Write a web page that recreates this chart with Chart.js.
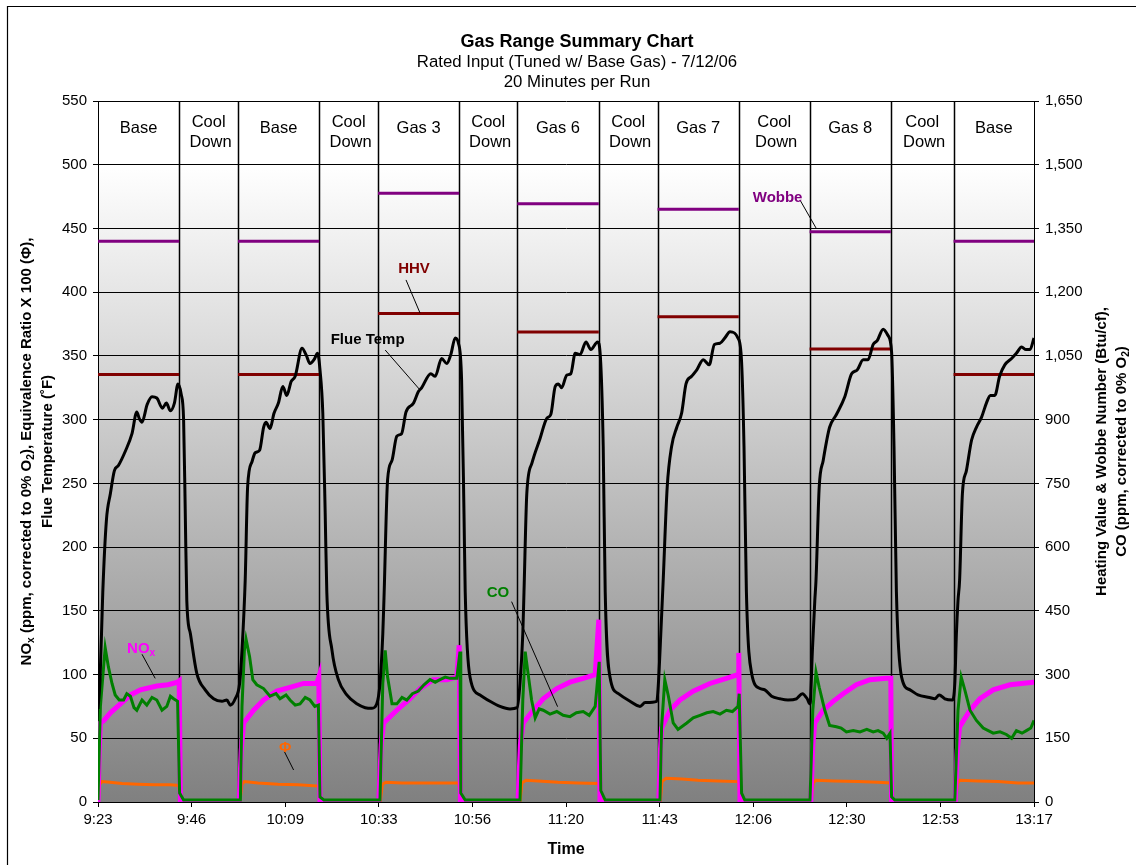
<!DOCTYPE html>
<html>
<head>
<meta charset="utf-8">
<title>Gas Range Summary Chart</title>
<script src="https://cdn.jsdelivr.net/npm/chart.js@4.4.1/dist/chart.umd.min.js"></script>
<style>
  html, body { margin: 0; padding: 0; background: #fff; }
  #wrap { position: relative; width: 1136px; height: 865px; }
</style>
</head>
<body>
<div id="wrap"><canvas id="gasChart" width="1136" height="865"></canvas></div>
<script>
// x = minutes since 9:23
const timeLabels = ['9:23', '9:46', '10:09', '10:33', '10:56', '11:20', '11:43', '12:06', '12:30', '12:53', '13:17'];
const tickStep = 23.4;

// bands across the top of the plot
const segEdges = [0, 20.3, 35, 55.3, 70, 90.3, 104.8, 125.2, 139.9, 160.2, 177.9, 198.2, 213.9, 234];
const segNames = ['Base', 'Cool Down', 'Base', 'Cool Down', 'Gas 3', 'Cool Down', 'Gas 6', 'Cool Down',
                  'Gas 7', 'Cool Down', 'Gas 8', 'Cool Down', 'Base'];

// per run fuel properties (Btu/cf)
const runStart = [0, 35, 70, 104.8, 139.9, 177.9, 213.9];
const runEnd = [20.3, 55.3, 90.3, 125.2, 160.2, 198.2, 234];
const hhv = [1006, 1006, 1150, 1106, 1142, 1066, 1006];
const wobbe = [1320, 1320, 1433, 1408, 1395, 1342, 1320];

// flue temperature (F)
const flueTime = [0, 0.5, 1.2, 2.1, 3.1, 4.1, 5.1, 6.8, 8.5, 9.7, 10.3, 11.0, 12.3, 13.5, 14.7, 16.1, 17.1, 18.1, 19.1, 20.0, 20.8, 21.4, 21.8, 22.2,
  23.1, 24.7, 26.8, 28.9, 31.0, 32.2, 33.1, 34.3, 35.4, 36.0, 36.8, 37.4, 38.5, 39.3, 40.4, 41.4, 42.0, 43.0, 44.0, 45.1, 46.2, 47.2, 48.3, 49.3,
  51.0, 52.0, 53.0, 54.0, 54.9, 55.5, 56.2, 56.8, 57.2, 58.5, 60.1, 62.2, 64.7, 66.8, 68.5, 69.7, 70.5, 71.2, 71.5, 72.4, 73.5, 74.7, 75.9, 77.0,
  78.9, 80.1, 80.9, 83.2, 84.3, 85.9, 87.2, 88.2, 89.3, 90.1, 90.9, 91.5, 91.8, 93.0, 95.5, 98.0, 100.5, 103.0, 104.8, 105.5, 106.2, 106.5, 107.2,
  108.5, 110.5, 112.2, 113.2, 114.3, 115.1, 115.9, 117.2, 118.2, 119.3, 120.5, 122.0, 123.2, 124.9, 125.6, 126.3, 126.8, 128.0, 130.1, 133.0,
  135.5, 136.8, 139.7, 140.1, 140.7, 141.3, 142.3, 143.4, 144.7, 145.9, 147.0, 148.4, 149.7, 151.3, 152.8, 154.1, 155.5, 156.7, 158.0, 160.0,
  160.9, 161.5, 162.1, 163.4, 165.5, 166.7, 168.4, 170.5, 172.5, 174.6, 176.1, 177.3, 178.0, 178.6, 179.2, 179.5, 180.3, 181.3, 182.9, 184.6,
  186.7, 188.4, 189.8, 191.3, 192.5, 193.8, 194.8, 196.3, 197.5, 198.4, 199.0, 199.6, 200.9, 203.0, 205.0, 207.9, 209.2, 210.3, 211.7, 213.6,
  214.2, 214.6, 215.0, 215.4, 216.1, 217.1, 218.4, 219.6, 220.9, 222.1, 223.1, 224.2, 225.4, 226.7, 228.4, 229.6, 230.9, 232.0, 233.0, 234.0];
const flueTemp = [73, 95, 165, 221, 242, 260, 264, 275, 289, 306, 301, 298, 312, 318, 317, 309, 313, 307, 313, 328, 320, 300, 230, 158,
  132, 101, 88, 81, 79, 80, 76, 81, 93, 119, 174, 247, 267, 274, 276, 294, 298, 293, 305, 313, 326, 319, 330, 334,
  356, 351, 344, 347, 352, 339, 305, 226, 165, 119, 96, 84, 77, 74, 73.5, 77, 93, 132, 160, 253, 268, 287, 289, 306,
  313, 322, 325, 336, 334, 348, 344, 351, 364, 360, 331, 226, 165, 98, 84, 79, 75, 73, 74, 93, 132, 165, 242,
  266, 285, 301, 304, 326, 328, 325, 335, 336, 352, 351, 361, 355, 361, 349, 279, 165, 98, 85, 79,
  75, 78, 79, 93, 132, 174, 247, 279, 294, 305, 328, 334, 339, 347, 343, 359, 360, 364, 369, 364,
  345, 279, 165, 101, 89, 88, 83, 81, 80, 81, 85, 81, 77, 119, 158, 174, 247, 268, 294, 304,
  318, 336, 339, 347, 347, 359, 362, 371, 366, 353, 279, 165, 98, 88, 84, 82, 81, 84, 81, 80,
  93, 132, 158, 174, 242, 260, 284, 294, 302, 313, 319, 319, 334, 343, 348, 352, 357, 355, 355, 364];

// NOx (ppm)
const noxTime = [0, 0.3, 0.6, 1.5, 3.1, 5.6, 8.1, 10.6, 14.7, 17.5, 19.9, 20.3, 20.6,
  35.3, 35.8, 36.4, 38.9, 41.4, 44.7, 48.0, 51.4, 54.7, 55.2, 55.5,
  70.2, 70.8, 71.4, 74.7, 78.0, 80.5, 83.8, 87.2, 89.7, 90.3, 90.6,
  105.0, 105.6, 106.3, 108.8, 111.3, 114.7, 118.0, 121.3, 124.3, 125.2, 125.5,
  140.2, 140.6, 140.9, 143.0, 145.5, 148.8, 153.0, 157.1, 160.0, 160.2, 160.5,
  178.2, 178.7, 179.2, 181.3, 183.8, 186.3, 189.6, 193.0, 197.1, 198.2, 198.4,
  214.3, 214.8, 215.4, 218.0, 220.5, 223.8, 228.0, 233.8, 234.0];
const noxVal = [0, 40, 62, 64, 70, 77, 84, 88, 91, 92, 94, 95, 0,
  0, 40, 62, 72, 80, 87, 90, 93, 93, 98, 0,
  0, 45, 62, 72, 81, 89, 96, 96, 98, 123, 0,
  0, 45, 62, 72, 81, 89, 94, 97, 100, 143, 0,
  0, 40, 58, 72, 80, 87, 93, 97, 100, 117, 0,
  0, 45, 62, 72, 79, 85, 92, 96, 97, 97, 0,
  0, 40, 59, 72, 81, 88, 92, 94, 94];

// CO (ppm, right axis)
const coTime = [0, 0.6, 1.4, 1.8, 2.6, 3.5, 4.3, 5.3, 6.4, 7.2, 8.1, 9.0, 9.7, 11.0, 12.2, 13.5, 14.7, 16.0, 17.2, 18.1, 18.9, 19.9, 20.4, 21.4,
  35.6, 36.0, 36.6, 37.0, 37.9, 38.7, 39.7, 41.4, 43.0, 44.5, 45.5, 47.0, 48.0, 49.3, 50.5, 51.8, 53.0, 54.2, 55.1, 55.5, 56.5,
  70.5, 71.2, 71.8, 72.4, 73.5, 74.7, 76.0, 77.2, 78.6, 80.1, 81.5, 83.0, 84.3, 85.5, 86.8, 88.0, 89.7, 90.5, 90.7, 91.8,
  105.5, 106.2, 106.8, 107.3, 108.4, 109.3, 110.3, 111.3, 113.0, 114.7, 116.3, 118.0, 119.6, 121.3, 122.8, 124.3, 125.3, 125.7, 126.8,
  140.5, 140.9, 141.7, 142.6, 143.8, 145.0, 147.2, 148.8, 150.5, 152.2, 153.8, 155.5, 157.1, 158.6, 160.0, 160.3, 160.9, 161.7,
  178.0, 178.7, 179.5, 180.3, 181.7, 182.9, 184.6, 185.8, 187.1, 188.8, 190.5, 192.2, 193.8, 195.0, 196.3, 197.2, 198.0, 198.4, 199.2,
  214.2, 215.0, 215.8, 216.7, 218.0, 219.6, 221.3, 223.8, 225.5, 227.1, 228.4, 229.6, 231.0, 232.1, 233.2, 234.0];
const coVal = [4.5, 225, 318, 363, 318, 279, 252, 240, 240, 255, 249, 222, 216, 240, 228, 246, 240, 216, 225, 249, 243, 237, 21, 4.5,
  4.5, 225, 357, 384, 342, 288, 276, 267, 249, 255, 243, 252, 240, 228, 231, 246, 240, 225, 228, 12, 4.5,
  4.5, 279, 357, 294, 231, 231, 246, 240, 255, 261, 276, 288, 282, 288, 294, 291, 291, 354, 21, 4.5,
  4.5, 240, 354, 318, 240, 198, 219, 216, 207, 213, 204, 201, 210, 213, 204, 225, 330, 27, 4.5,
  4.5, 177, 288, 249, 186, 171, 186, 198, 204, 210, 213, 207, 216, 213, 225, 255, 21, 4.5,
  4.5, 216, 306, 270, 216, 180, 177, 174, 165, 168, 165, 171, 165, 168, 162, 150, 162, 12, 4.5,
  4.5, 216, 294, 264, 216, 192, 174, 162, 165, 159, 150, 168, 162, 168, 174, 192];

// equivalence ratio x 100
const phiTime = [0, 0.4, 1.0, 3, 6, 10, 14, 18, 20.2, 20.6, 21.5,
  35.5, 36.0, 36.6, 40, 45, 50, 55.2, 55.6, 56.5,
  70.6, 71.1, 72, 76, 80, 85, 90.2, 90.6, 91.5,
  105.5, 106.0, 107, 110, 115, 120, 125.2, 125.6, 126.5,
  140.6, 141, 142, 146, 150, 155, 160.1, 160.5, 161.5,
  178.3, 178.8, 179.5, 184, 190, 195, 198.2, 198.5, 199.5,
  214.4, 214.9, 215.5, 220, 225, 230, 234];
const phiVal = [0.5, 14, 16, 15.5, 14.5, 14, 13.5, 13.5, 13, 2, 1,
  1, 14, 16, 15, 14, 13.5, 12.5, 2, 1,
  1, 14, 15.5, 15, 15, 15, 15, 2, 1,
  1, 15, 17, 16.5, 15.5, 15, 14.5, 2, 1,
  1, 16, 18.6, 18, 17, 16.5, 16, 2, 1,
  1, 15, 17, 16.5, 16, 15.5, 15, 2, 1,
  1, 15, 17, 16.5, 16, 15, 15];

const FONT = '"Liberation Sans", Arial, sans-serif';

function pts(xs, ys) {
    return xs.map((x, i) => ({ x: x, y: ys[i] }));
}

// one flat piece per run, broken by nulls
function stepLines(vals) {
    const out = [];
    runStart.forEach((s, i) => {
        out.push({ x: s, y: vals[i] }, { x: runEnd[i], y: vals[i] }, { x: runEnd[i], y: null });
    });
    return out;
}

// text with subscripts: parts = [[text, isSub], ...], y is baseline
function drawRich(ctx, parts, x, y, size, bold, color) {
    const f = s => (bold ? 'bold ' : '') + s + 'px ' + FONT;
    let w = 0;
    parts.forEach(p => { ctx.font = f(p[1] ? size * 0.68 : size); w += ctx.measureText(p[0]).width; });
    let cx = x - w / 2;
    ctx.fillStyle = color;
    ctx.textAlign = 'left';
    ctx.textBaseline = 'alphabetic';
    parts.forEach(p => {
        ctx.font = f(p[1] ? size * 0.68 : size);
        ctx.fillText(p[0], cx, p[1] ? y + size * 0.22 : y);
        cx += ctx.measureText(p[0]).width;
    });
}

// callouts, positioned in data units (minutes, left axis value)
const notes = [
    { parts: [['Wobbe']], color: '#800080', at: [169.9, 474.7], from: [175.5, 472.3], to: [179.5, 450.4] },
    { parts: [['HHV']], color: '#800000', at: [79.0, 419], from: [77.0, 409.6], to: [80.5, 383.7] },
    { parts: [['Flue Temp']], color: '#000000', at: [67.4, 363.3], from: [71.8, 354.6], to: [80.5, 323.3] },
    { parts: [['CO']], color: '#008000', at: [100, 164.8], from: [103.4, 157.2], to: [114.9, 74.8] },
    { parts: [['NO'], ['x', true]], color: '#ff00ff', at: [10.8, 121.6], from: [11.0, 115.9], to: [14.3, 97] },
    { parts: [['Φ']], color: '#ff6600', at: [46.8, 43.2], from: [46.6, 39.5], to: [48.9, 25.1] }
];

const decorPlugin = {
    id: 'decor',
    beforeDraw(chart) {
        const { ctx, chartArea: a, scales } = chart;
        ctx.save();
        const top500 = scales.y.getPixelForValue(500);
        const g = ctx.createLinearGradient(0, top500, 0, a.bottom);
        g.addColorStop(0, '#ffffff');
        g.addColorStop(1, '#808080');
        ctx.fillStyle = '#ffffff';
        ctx.fillRect(a.left, a.top, a.right - a.left, top500 - a.top);
        ctx.fillStyle = g;
        ctx.fillRect(a.left, top500, a.right - a.left, a.bottom - top500);
        // outer frame
        ctx.strokeStyle = '#000';
        ctx.lineWidth = 1.2;
        ctx.beginPath();
        ctx.moveTo(7.5, 865);
        ctx.lineTo(7.5, 6.5);
        ctx.lineTo(1136, 6.5);
        ctx.stroke();
        ctx.restore();
    },
    beforeDatasetsDraw(chart) {
        const { ctx, chartArea: a, scales } = chart;
        ctx.save();
        ctx.strokeStyle = '#000';
        ctx.lineWidth = 1.5;
        segEdges.slice(1, -1).forEach(m => {
            const px = Math.round(scales.x.getPixelForValue(m)) + 0.5;
            ctx.beginPath();
            ctx.moveTo(px, a.top);
            ctx.lineTo(px, a.bottom);
            ctx.stroke();
        });
        ctx.restore();
    },
    afterDraw(chart) {
        const { ctx, chartArea: a, scales } = chart;
        const X = v => scales.x.getPixelForValue(v);
        const Y = v => scales.y.getPixelForValue(v);
        ctx.save();

        // band names
        segNames.forEach((name, i) => {
            const cx = (X(segEdges[i]) + X(segEdges[i + 1])) / 2;
            const words = name === 'Cool Down' ? ['Cool', 'Down'] : [name];
            if (words.length === 1) {
                drawRich(ctx, [[words[0]]], cx, a.top + 32, 16.5, false, '#000');
            } else {
                drawRich(ctx, [[words[0]]], cx, a.top + 26, 16.5, false, '#000');
                drawRich(ctx, [[words[1]]], cx + 2, a.top + 45.5, 16.5, false, '#000');
            }
        });

        // titles
        drawRich(ctx, [['Gas Range Summary Chart']], 577, 47, 18, true, '#000');
        drawRich(ctx, [['Rated Input (Tuned w/ Base Gas) - 7/12/06']], 577, 66.5, 16.8, false, '#000');
        drawRich(ctx, [['20 Minutes per Run']], 577, 86.5, 16.8, false, '#000');
        drawRich(ctx, [['Time']], (a.left + a.right) / 2, 854, 16, true, '#000');

        // axis titles (rotated)
        const midY = (a.top + a.bottom) / 2;
        const rot = (x, parts) => {
            ctx.save();
            ctx.translate(x, midY);
            ctx.rotate(-Math.PI / 2);
            drawRich(ctx, parts, 0, 5.5, 15, true, '#000');
            ctx.restore();
        };
        rot(25, [['NO'], ['x', true], [' (ppm, corrected to 0% O'], ['2', true], ['), Equivalence Ratio X 100 (Φ),']]);
        rot(46, [['Flue Temperature (˚F)']]);
        rot(1100, [['Heating Value & Wobbe Number (Btu/cf),']]);
        rot(1120, [['CO (ppm, corrected to 0% O'], ['2', true], [')']]);

        // callouts
        notes.forEach(n => {
            ctx.strokeStyle = '#000';
            ctx.lineWidth = 1;
            ctx.beginPath();
            ctx.moveTo(X(n.from[0]), Y(n.from[1]));
            ctx.lineTo(X(n.to[0]), Y(n.to[1]));
            ctx.stroke();
            drawRich(ctx, n.parts, X(n.at[0]), Y(n.at[1]) + 5.5, 15, true, n.color);
        });
        ctx.restore();
    }
};

Chart.defaults.font.family = FONT;
Chart.defaults.font.size = 15;
Chart.defaults.color = '#000';

const ctx = document.getElementById('gasChart').getContext('2d');
const gasChart = new Chart(ctx, {
    type: 'line',
    data: {
        datasets: [
            { label: 'Flue Temp', data: pts(flueTime, flueTemp), yAxisID: 'y', borderColor: '#000000', borderWidth: 3, cubicInterpolationMode: 'monotone' },
            { label: 'CO', data: pts(coTime, coVal), yAxisID: 'y1', borderColor: '#008000', borderWidth: 3 },
            { label: 'NOx', data: pts(noxTime, noxVal), yAxisID: 'y', borderColor: '#ff00ff', borderWidth: 5 },
            { label: 'Phi', data: pts(phiTime, phiVal), yAxisID: 'y', borderColor: '#ff6600', borderWidth: 3 },
            { label: 'HHV', data: stepLines(hhv), yAxisID: 'y1', borderColor: '#800000', borderWidth: 3, spanGaps: false },
            { label: 'Wobbe', data: stepLines(wobbe), yAxisID: 'y1', borderColor: '#800080', borderWidth: 3, spanGaps: false }
        ]
    },
    options: {
        responsive: false,
        animation: false,
        devicePixelRatio: 1,
        layout: { padding: { top: 101, left: 0, right: 0, bottom: 0 } },
        elements: { point: { radius: 0 }, line: { tension: 0 } },
        plugins: { legend: { display: false }, tooltip: { enabled: false } },
        scales: {
            x: {
                type: 'linear',
                min: 0,
                max: 234,
                afterBuildTicks: axis => { axis.ticks = timeLabels.map((_, i) => ({ value: i * tickStep })); },
                afterFit: s => { s.height = 63; },
                ticks: { autoSkip: false, maxRotation: 0, padding: 4, callback: (v, i) => timeLabels[i] },
                grid: { drawOnChartArea: false, drawTicks: true, tickLength: 5, color: '#000' },
                border: { color: '#000', width: 1 }
            },
            y: {
                position: 'left',
                min: 0,
                max: 550,
                afterFit: s => { s.width = 98; },
                ticks: { stepSize: 50, padding: 6 },
                grid: { color: '#000', lineWidth: 1, tickLength: 5 },
                border: { color: '#000', width: 1 }
            },
            y1: {
                position: 'right',
                min: 0,
                max: 1650,
                afterFit: s => { s.width = 102; },
                ticks: { stepSize: 150, padding: 6 },
                grid: { drawOnChartArea: false, tickLength: 5, color: '#000' },
                border: { color: '#000', width: 1 }
            }
        }
    },
    plugins: [decorPlugin]
});
</script>
</body>
</html>
